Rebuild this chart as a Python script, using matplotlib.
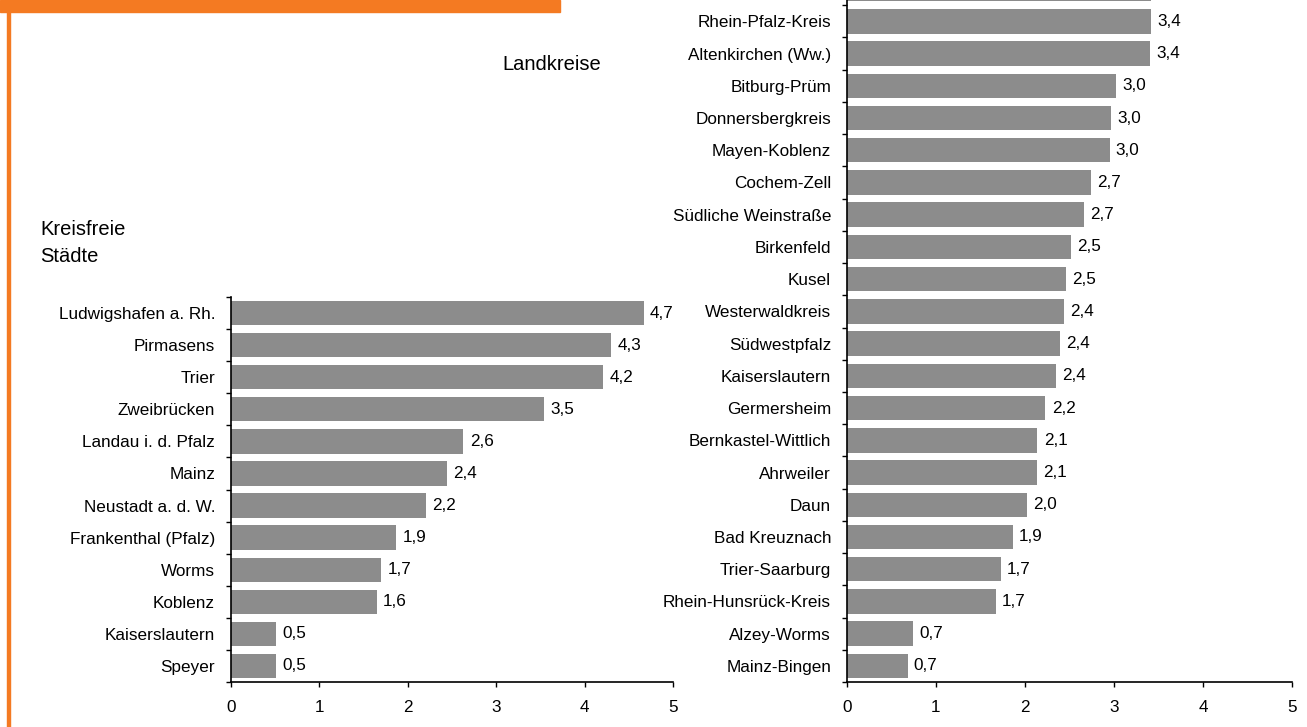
import numpy as np
import matplotlib
matplotlib.use("Agg")
from matplotlib import pyplot as plt
from matplotlib.patches import Rectangle

matplotlib.rcParams["font.family"] = ["Liberation Sans", "DejaVu Sans"]

# Kreisfreie Städte (top to bottom)
staedte = ["Ludwigshafen a. Rh.", "Pirmasens", "Trier", "Zweibrücken",
           "Landau i. d. Pfalz", "Mainz", "Neustadt a. d. W.", "Frankenthal (Pfalz)",
           "Worms", "Koblenz", "Kaiserslautern", "Speyer"]
staedte_vals = [4.67, 4.30, 4.21, 3.54, 2.63, 2.44, 2.21, 1.87, 1.70, 1.65, 0.51, 0.51]

# Landkreise (top to bottom, first one is cut off at the top of the picture)
kreise = ["", "Rhein-Pfalz-Kreis", "Altenkirchen (Ww.)", "Bitburg-Prüm",
          "Donnersbergkreis", "Mayen-Koblenz", "Cochem-Zell", "Südliche Weinstraße",
          "Birkenfeld", "Kusel", "Westerwaldkreis", "Südwestpfalz", "Kaiserslautern",
          "Germersheim", "Bernkastel-Wittlich", "Ahrweiler", "Daun", "Bad Kreuznach",
          "Trier-Saarburg", "Rhein-Hunsrück-Kreis", "Alzey-Worms", "Mainz-Bingen"]
kreise_vals = [3.42, 3.42, 3.41, 3.02, 2.97, 2.95, 2.74, 2.66, 2.52, 2.46, 2.44, 2.39,
               2.35, 2.23, 2.14, 2.13, 2.02, 1.86, 1.73, 1.67, 0.74, 0.68]

BAR = "#8c8c8c"
ORANGE = "#f47a22"
FS = 12.3
W, H = 1307, 727

fig = plt.figure(figsize=(W / 100, H / 100), dpi=100)

# orange frame pieces
fig.patches.append(Rectangle((0, 1 - 12 / H), 560 / W, 12 / H,
                             transform=fig.transFigure, color=ORANGE, zorder=0))
fig.patches.append(Rectangle((7 / W, 0), 3 / W, 1,
                             transform=fig.transFigure, color=ORANGE, zorder=0))


def draw(ax, names, vals):
    n = len(names)
    y = np.arange(n)
    ax.barh(y, vals, height=0.76, color=BAR)
    ax.set_ylim(n - 0.5, -0.5)
    ax.set_xlim(0, 5)
    ax.set_yticks(y)
    ax.set_yticklabels(names, fontsize=FS)
    ax.set_yticks(np.arange(n + 1) - 0.5, minor=True)
    ax.tick_params(axis="y", which="major", length=0, pad=11.5)
    ax.tick_params(axis="y", which="minor", length=3.6, width=1, direction="out")
    ax.set_xticks(range(6))
    ax.tick_params(axis="x", length=3.6, width=1, direction="out", labelsize=FS, pad=9)
    for s in ["top", "right"]:
        ax.spines[s].set_visible(False)
    for s in ["left", "bottom"]:
        ax.spines[s].set_linewidth(1.2)
    for yi, v, name in zip(y, vals, names):
        if name:
            ax.annotate(f"{v:.1f}".replace(".", ","), (v, yi), xytext=(4.5, 0),
                        textcoords="offset points", va="center", ha="left", fontsize=FS)


ax1 = fig.add_axes([231 / W, 1 - 682 / H, 442 / W, 385 / H])
draw(ax1, staedte, staedte_vals)

ax2 = fig.add_axes([847 / W, 1 - 682 / H, 445 / W, 709 / H])
draw(ax2, kreise, kreise_vals)

fig.text(502 / W, 1 - 65 / H, "Landkreise", fontsize=14.5, va="center", ha="left")
fig.text(40 / W, 1 - 243 / H, "Kreisfreie\nStädte", fontsize=14.5, va="center",
         ha="left", linespacing=1.55)

fig.savefig("out.png", dpi=100)
